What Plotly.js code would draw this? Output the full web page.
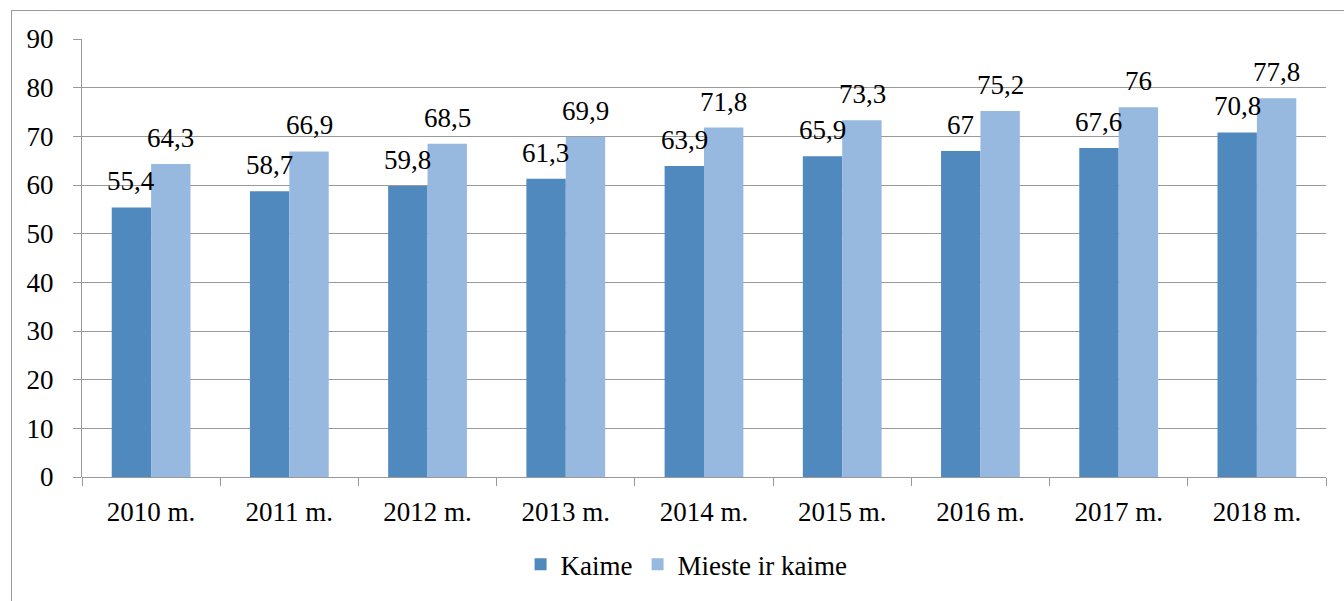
<!DOCTYPE html>
<html>
<head>
<meta charset="utf-8">
<script src="https://cdn.plot.ly/plotly-3.0.1.min.js"></script>
<style>
html,body{margin:0;padding:0;background:#fff;overflow:hidden;}
#wrap{position:relative;width:1344px;height:601px;}
#frame{position:absolute;left:11px;top:10px;width:1400px;height:700px;border:1px solid #9a9a9a;box-sizing:border-box;pointer-events:none;}
#chart{position:absolute;left:0;top:0;width:1344px;height:601px;}
</style>
</head>
<body>
<div id="wrap"><div id="frame"></div><div id="chart"></div></div>
<script>
const categories = ['2010 m.','2011 m.','2012 m.','2013 m.','2014 m.','2015 m.','2016 m.','2017 m.','2018 m.'];
const kaime = [55.4, 58.7, 59.8, 61.3, 63.9, 65.9, 67, 67.6, 70.8];
const miesteIrKaime = [64.3, 66.9, 68.5, 69.9, 71.8, 73.3, 75.2, 76, 77.8];
const seriesNames = ['Kaime', 'Mieste ir kaime'];
const yTicks = [0,10,20,30,40,50,60,70,80,90];

const FONT = 'Liberation Serif';
const fmt = v => String(v).replace('.', ',');

const traces = [
  {type:'bar', name:seriesNames[0], x:categories, y:kaime, marker:{color:'#4f89bd'}},
  {type:'bar', name:seriesNames[1], x:categories, y:miesteIrKaime, marker:{color:'#97b9e0'}}
];

const annotations = [];
const half = 19.8;
[[kaime,-half],[miesteIrKaime,half]].forEach(([arr,shift]) => {
  arr.forEach((v,i) => {
    annotations.push({x:categories[i], y:v, xref:'x', yref:'y', text:fmt(v), showarrow:false,
      xanchor:'center', yanchor:'bottom', xshift:shift, yshift:9,
      font:{family:FONT, size:27, color:'#000'}});
  });
});

const layout = {
  width:1344, height:601,
  margin:{l:82, r:18, t:39, b:122, pad:0},
  paper_bgcolor:'rgba(0,0,0,0)', plot_bgcolor:'rgba(0,0,0,0)',
  barmode:'group', bargap:0.43, bargroupgap:0,
  separators:',.',
  font:{family:FONT, size:27, color:'#000'},
  xaxis:{type:'category', showgrid:false, showline:false, ticks:'outside', ticklen:8, tickcolor:'#999',
    tickson:'boundaries', tickfont:{family:FONT, size:27, color:'#000'}, ticklabelstandoff:16, zeroline:false},
  yaxis:{range:[0,90], tickvals:yTicks, showgrid:true, gridcolor:'#999', gridwidth:1, showline:true,
    linecolor:'#999', linewidth:1, ticks:'outside', ticklen:8, tickcolor:'#999', zeroline:true, zerolinecolor:'#999',
    tickfont:{family:FONT, size:27, color:'#000'}, ticklabelstandoff:14},
  showlegend:true,
  legend:{orientation:'h', x:0.486, xanchor:'center', y:-0.2, yanchor:'middle',
    font:{family:FONT, size:27, color:'#000'}, itemwidth:30, tracegroupgap:0},
  annotations:annotations
};

Plotly.newPlot('chart', traces, layout, {displayModeBar:false, staticPlot:true});
</script>
</body>
</html>
